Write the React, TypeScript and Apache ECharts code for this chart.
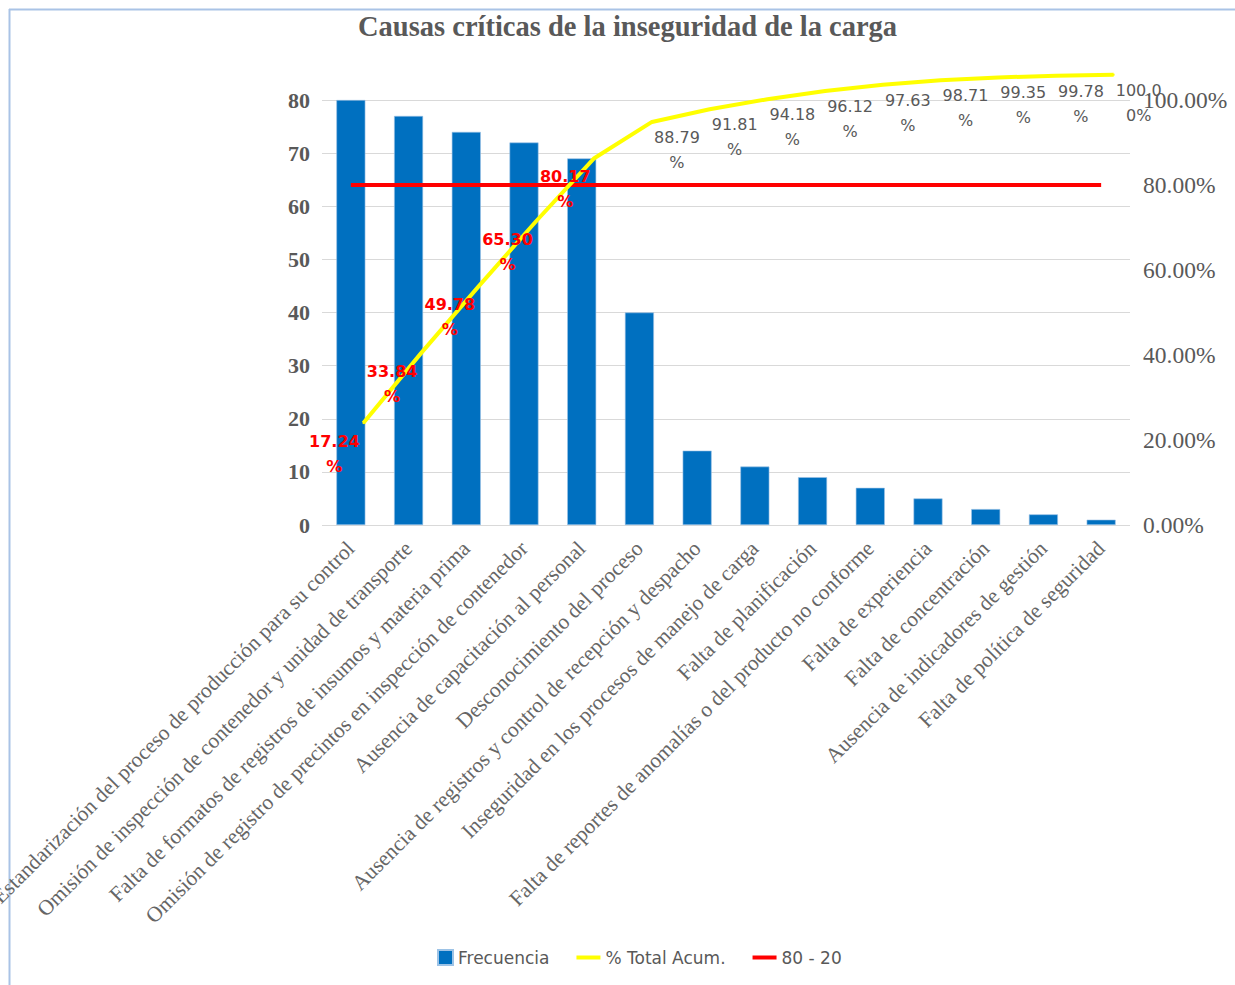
import React, { useEffect, useRef } from "react";
import * as echarts from "echarts";

const chartTitle = "Causas críticas de la inseguridad de la carga";

const categories = [
  "Estandarización del proceso de producción para su control",
  "Omisión de inspección de contenedor y unidad de transporte",
  "Falta de formatos de registros de insumos y materia prima",
  "Omisión de registro de precintos en inspección de contenedor",
  "Ausencia de capacitación al personal",
  "Desconocimiento del proceso",
  "Ausencia de registros y control de recepción y despacho",
  "Inseguridad en los procesos de manejo de carga",
  "Falta de planificación",
  "Falta de reportes de anomalías o del producto no conforme",
  "Falta de experiencia",
  "Falta de concentración",
  "Ausencia de indicadores de gestión",
  "Falta de política de seguridad",
];

const frequencies = [80, 77, 74, 72, 69, 40, 14, 11, 9, 7, 5, 3, 2, 1];

const cumulativePct = [
  17.24, 33.84, 49.78, 65.3, 80.17, 88.79, 91.81, 94.18, 96.12, 97.63, 98.71,
  99.35, 99.78, 100.0,
];

const thresholdPct = [80, 80, 80, 80, 80, 80, 80, 80, 80, 80, 80, 80, 80, 80];

const vitalCount = 5;

const seriesNames = ["Frecuencia", "% Total Acum.", "80 - 20"];

const leftAxisTicks = { min: 0, max: 80, interval: 10 };
const rightAxisTicks = { min: 0, max: 100, interval: 20 };

const BLUE = "#0070c0";
const YELLOW = "#ffff00";
const RED = "#ff0000";
const GREY = "#595959";

function pctLabel(v: number): string {
  const s = v.toFixed(2) + "%";
  return s.slice(0, 5) + "\n" + s.slice(5);
}

export default function App() {
  const ref = useRef<HTMLDivElement>(null);

  useEffect(() => {
    if (!ref.current) return;
    const chart = echarts.init(ref.current, null, { renderer: "svg" });

    const lineData = cumulativePct.map((v, i) => {
      const vital = i < vitalCount;
      return {
        value: [i, v],
        label: {
          color: vital ? RED : GREY,
          fontWeight: vital ? "bold" : "normal",
          position: vital ? [-28, 32] : [26, 29],
        },
      };
    });

    const option: any = {
      animation: false,
      backgroundColor: "#ffffff",
      title: {
        text: chartTitle,
        left: 353,
        top: 7,
        textStyle: {
          fontFamily: "Liberation Serif",
          fontSize: 28.5,
          fontWeight: "bold",
          color: GREY,
        },
      },
      graphic: [
        {
          type: "line",
          shape: { x1: 9, y1: 9.5, x2: 1235, y2: 9.5 },
          style: { stroke: "#a9c3e6", lineWidth: 2 },
        },
        {
          type: "line",
          shape: { x1: 9.5, y1: 9, x2: 9.5, y2: 985 },
          style: { stroke: "#a9c3e6", lineWidth: 2 },
        },
      ],
      legend: {
        left: 423,
        top: 944,
        itemGap: 27,
        itemWidth: 24,
        itemHeight: 16,
        textStyle: {
          fontFamily: "DejaVu Sans",
          fontSize: 17,
          color: GREY,
        },
        data: [
          {
            name: seriesNames[0],
            icon: "path://M0,0M9,0h15v15h-15z",
            itemStyle: { color: BLUE },
          },
          {
            name: seriesNames[1],
            icon: "path://M0,0h24v4h-24z",
            itemStyle: { color: YELLOW },
          },
          {
            name: seriesNames[2],
            icon: "path://M0,0h24v4h-24z",
            itemStyle: { color: RED },
          },
        ],
      },
      grid: {
        left: 322,
        right: 105,
        top: 100,
        bottom: 460,
        containLabel: false,
        outerBoundsMode: "none",
      },
      xAxis: [
        {
          type: "category",
          data: categories,
          axisLine: { show: false },
          axisTick: { show: false },
          axisLabel: {
            interval: 0,
            rotate: 45,
            margin: 20,
            fontFamily: "Liberation Serif",
            fontSize: 21.5,
            color: "#666666",
          },
        },
        {
          type: "value",
          show: false,
          min: -0.717,
          max: 13.283,
        },
      ],
      yAxis: [
        {
          type: "value",
          position: "left",
          min: leftAxisTicks.min,
          max: leftAxisTicks.max,
          interval: leftAxisTicks.interval,
          axisLine: { show: false },
          axisTick: { show: false },
          axisLabel: {
            margin: 12,
            fontFamily: "Liberation Serif",
            fontSize: 22,
            fontWeight: "bold",
            color: GREY,
          },
          splitLine: { lineStyle: { color: "#d9d9d9", width: 1 } },
        },
        {
          type: "value",
          position: "right",
          min: rightAxisTicks.min,
          max: rightAxisTicks.max,
          interval: rightAxisTicks.interval,
          axisLine: { show: false },
          axisTick: { show: false },
          splitLine: { show: false },
          axisLabel: {
            margin: 13,
            fontFamily: "Liberation Serif",
            fontSize: 23.5,
            color: GREY,
            formatter: (v: number) => v.toFixed(2) + "%",
          },
        },
        {
          type: "value",
          show: false,
          min: -7,
          max: 94,
        },
      ],
      series: [
        {
          name: seriesNames[0],
          type: "bar",
          data: frequencies,
          barWidth: 29,
          itemStyle: {
            color: BLUE,
            borderColor: "#9dc3e6",
            borderWidth: 0.6,
          },
          z: 1,
        },
        {
          name: seriesNames[2],
          type: "line",
          xAxisIndex: 0,
          yAxisIndex: 1,
          data: thresholdPct,
          symbol: "none",
          lineStyle: { color: RED, width: 4 },
          itemStyle: { color: RED },
          z: 3,
        },
        {
          name: seriesNames[1],
          type: "line",
          xAxisIndex: 1,
          yAxisIndex: 2,
          data: lineData,
          clip: false,
          symbol: "circle",
          symbolSize: 2,
          showSymbol: true,
          lineStyle: { color: YELLOW, width: 4 },
          itemStyle: { color: YELLOW },
          label: {
            show: true,
            align: "center",
            verticalAlign: "middle",
            fontFamily: "DejaVu Sans",
            fontSize: 16,
            lineHeight: 25,
            formatter: (p: any) => pctLabel(p.value[1]),
          },
          labelLayout: { hideOverlap: false },
          z: 4,
        },
      ],
    };

    chart.setOption(option);
    return () => {
      chart.dispose();
    };
  }, []);

  return (
    <div
      ref={ref}
      style={{
        position: "absolute",
        left: 0,
        top: 0,
        width: 1235,
        height: 985,
      }}
    />
  );
}
